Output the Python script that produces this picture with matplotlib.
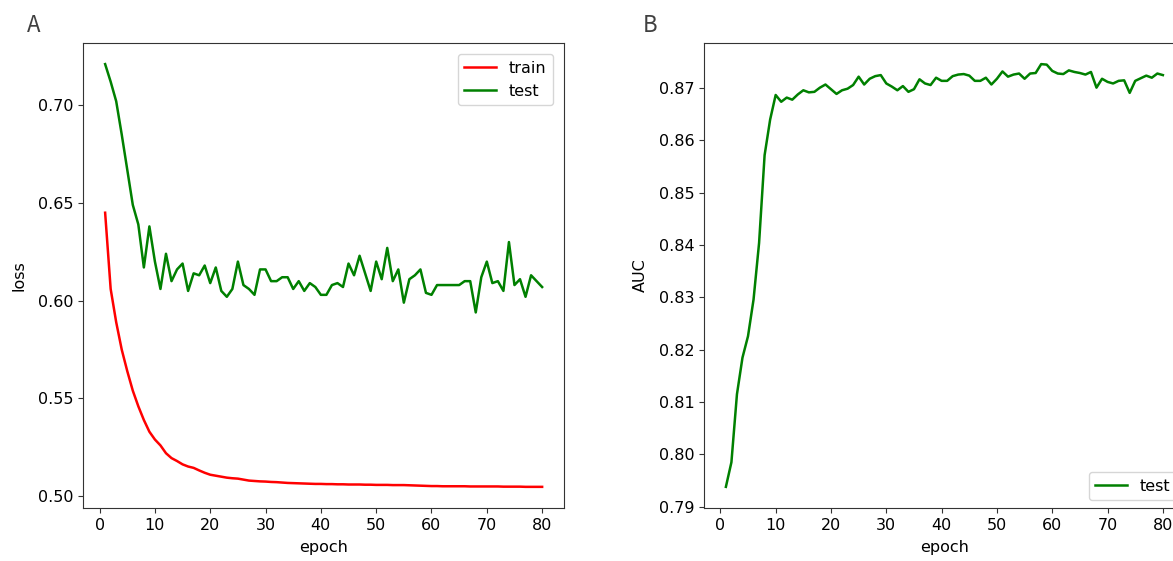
import numpy as np
import matplotlib
matplotlib.use("Agg")
import matplotlib.pyplot as plt

# Data
epochs = np.arange(1, 81)

train_loss = [
    0.645, 0.606, 0.589, 0.575, 0.564, 0.554, 0.546, 0.539, 0.533, 0.529,
    0.526, 0.522, 0.5195, 0.518, 0.5163, 0.5152, 0.5145, 0.5132, 0.512, 0.511,
    0.5105, 0.510, 0.5095, 0.5092, 0.509, 0.5085, 0.508, 0.5078, 0.5076, 0.5075,
    0.5073, 0.5072, 0.507, 0.5068, 0.5067, 0.5066, 0.5065, 0.5064, 0.5063, 0.5063,
    0.5062, 0.5062, 0.5061, 0.5061, 0.506, 0.506, 0.506, 0.5059, 0.5059, 0.5058,
    0.5058, 0.5058, 0.5057, 0.5057, 0.5057, 0.5056, 0.5055, 0.5054, 0.5053, 0.5052,
    0.5052, 0.5051, 0.5051, 0.5051, 0.5051, 0.5051, 0.505, 0.505, 0.505, 0.505,
    0.505, 0.505, 0.5049, 0.5049, 0.5049, 0.5049, 0.5048, 0.5048, 0.5048, 0.5048,
]

test_loss = [
    0.721, 0.712, 0.702, 0.685, 0.667, 0.649, 0.639, 0.617, 0.638, 0.620,
    0.606, 0.624, 0.610, 0.616, 0.619, 0.605, 0.614, 0.613, 0.618, 0.609,
    0.617, 0.605, 0.602, 0.606, 0.620, 0.608, 0.606, 0.603, 0.616, 0.616,
    0.610, 0.610, 0.612, 0.612, 0.606, 0.610, 0.605, 0.609, 0.607, 0.603,
    0.603, 0.608, 0.609, 0.607, 0.619, 0.613, 0.623, 0.614, 0.605, 0.620,
    0.611, 0.627, 0.610, 0.616, 0.599, 0.611, 0.613, 0.616, 0.604, 0.603,
    0.608, 0.608, 0.608, 0.608, 0.608, 0.610, 0.610, 0.594, 0.612, 0.620,
    0.609, 0.610, 0.605, 0.630, 0.608, 0.611, 0.602, 0.613, 0.610, 0.607,
]

test_auc = [
    0.7938, 0.7985, 0.8115, 0.8185, 0.8226, 0.8296, 0.8404, 0.8572, 0.8640, 0.8687,
    0.8674, 0.8682, 0.8678, 0.8688, 0.8696, 0.8692, 0.8693, 0.8701, 0.8707, 0.8698,
    0.8689, 0.8696, 0.8699, 0.8706, 0.8722, 0.8707, 0.8718, 0.8723, 0.8725, 0.8709,
    0.8703, 0.8696, 0.8704, 0.8693, 0.8698, 0.8717, 0.8709, 0.8706, 0.8720, 0.8714,
    0.8714, 0.8723, 0.8726, 0.8727, 0.8724, 0.8714, 0.8714, 0.8720, 0.8707, 0.8718,
    0.8732, 0.8722, 0.8726, 0.8728, 0.8718, 0.8728, 0.8729, 0.8746, 0.8745, 0.8733,
    0.8728, 0.8727, 0.8734, 0.8731, 0.8729, 0.8726, 0.8731, 0.8701, 0.8718, 0.8712,
    0.8709, 0.8714, 0.8715, 0.8691, 0.8714, 0.8719, 0.8724, 0.8720, 0.8728, 0.8725,
]

plt.rcParams["font.size"] = 11.5

fig = plt.figure(figsize=(11.73, 5.61), dpi=100)

# panel A: loss
ax1 = fig.add_axes([0.071, 0.0945, 0.4098, 0.8289])
ax1.plot(epochs, train_loss, color="red", lw=1.8, label="train")
ax1.plot(epochs, test_loss, color="green", lw=1.8, label="test")
ax1.set_xlabel("epoch", labelpad=5)
ax1.set_ylabel("loss", labelpad=8)
ax1.set_xticks(range(0, 81, 10))
ax1.set_yticks([0.50, 0.55, 0.60, 0.65, 0.70])
ax1.legend(loc="upper right", borderaxespad=0.7)

# panel B: AUC (right edge runs past the figure like the reference)
ax2 = fig.add_axes([0.6002, 0.0945, 0.4098, 0.8289])
ax2.plot(epochs, test_auc, color="green", lw=1.8, label="test")
ax2.set_xlabel("epoch", labelpad=5)
ax2.set_ylabel("AUC", labelpad=8)
ax2.set_xticks(range(0, 81, 10))
ax2.legend(loc="lower right")

for ax in (ax1, ax2):
    for sp in ax.spines.values():
        sp.set_color("#333333")
    ax.tick_params(color="#333333")

for lbl, xpos in [("A", 0.029), ("B", 0.554)]:
    fig.text(xpos, 0.955, lbl, fontsize=16, color="#404040",
             family=["Noto Sans CJK SC", "DejaVu Sans"],
             ha="center", va="center")

fig.savefig("out.png", dpi=100)
